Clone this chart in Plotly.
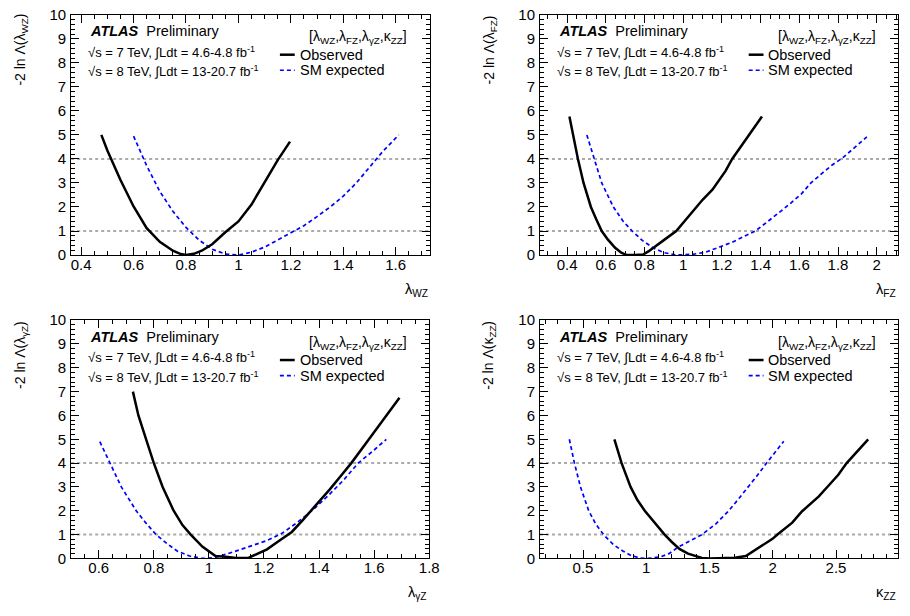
import plotly.graph_objects as go

# ---------------- data ----------------
wz_obs_x = [0.477, 0.50, 0.55, 0.60, 0.65, 0.70, 0.75, 0.78, 0.80, 0.83, 0.86, 0.90, 0.95, 1.00, 1.05, 1.10, 1.15, 1.197]
wz_obs_y = [5.0, 4.35, 3.12, 2.02, 1.12, 0.55, 0.18, 0.04, 0.0, 0.05, 0.18, 0.45, 0.95, 1.4, 2.1, 3.05, 3.95, 4.72]
wz_exp_x = [0.60, 0.65, 0.70, 0.75, 0.80, 0.85, 0.90, 0.95, 1.00, 1.05, 1.10, 1.15, 1.20, 1.25, 1.30, 1.35, 1.40, 1.45, 1.50, 1.55, 1.612]
wz_exp_y = [4.95, 3.72, 2.65, 1.82, 1.15, 0.62, 0.24, 0.04, 0.0, 0.12, 0.33, 0.62, 0.9, 1.22, 1.6, 2.0, 2.45, 3.0, 3.65, 4.3, 5.0]

fz_obs_x = [0.412, 0.43, 0.456, 0.485, 0.523, 0.55, 0.579, 0.61, 0.648, 0.68, 0.707, 0.75, 0.793, 0.82, 0.844, 0.90, 0.964, 1.0, 1.066, 1.10, 1.151, 1.177, 1.219, 1.253, 1.30, 1.339, 1.372, 1.407]
fz_obs_y = [5.77, 5.05, 4.0, 3.0, 2.0, 1.5, 1.0, 0.65, 0.3, 0.1, 0.0, 0.0, 0.02, 0.15, 0.3, 0.62, 1.0, 1.35, 2.0, 2.3, 2.72, 3.0, 3.5, 4.0, 4.55, 5.0, 5.4, 5.77]
fz_exp_x = [0.502, 0.54, 0.579, 0.639, 0.69, 0.736, 0.79, 0.844, 0.90, 0.964, 1.0, 1.05, 1.117, 1.151, 1.20, 1.253, 1.30, 1.372, 1.43, 1.492, 1.55, 1.611, 1.66, 1.72, 1.77, 1.825, 1.88, 1.949]
fz_exp_y = [5.0, 4.0, 3.0, 2.0, 1.4, 1.0, 0.6, 0.3, 0.1, 0.0, 0.0, 0.03, 0.12, 0.23, 0.38, 0.53, 0.72, 1.0, 1.35, 1.74, 2.12, 2.55, 3.0, 3.42, 3.75, 4.05, 4.45, 4.92]

gz_obs_x = [0.724, 0.744, 0.772, 0.80, 0.832, 0.872, 0.904, 0.934, 0.976, 1.024, 1.06, 1.10, 1.145, 1.18, 1.211, 1.25, 1.301, 1.34, 1.379, 1.439, 1.478, 1.517, 1.581, 1.64, 1.692]
gz_obs_y = [7.0, 6.0, 5.0, 4.0, 3.0, 2.0, 1.4, 1.0, 0.5, 0.1, 0.07, 0.02, 0.03, 0.2, 0.38, 0.7, 1.11, 1.6, 2.1, 2.9, 3.45, 4.0, 5.0, 5.9, 6.74]
gz_exp_x = [0.604, 0.64, 0.682, 0.736, 0.77, 0.808, 0.85, 0.886, 0.93, 0.975, 1.02, 1.091, 1.15, 1.211, 1.265, 1.32, 1.379, 1.43, 1.49, 1.542, 1.60, 1.644]
gz_exp_y = [4.9, 4.0, 3.0, 2.0, 1.5, 1.0, 0.6, 0.3, 0.1, 0.0, 0.03, 0.28, 0.52, 0.75, 1.05, 1.5, 2.05, 2.6, 3.3, 4.0, 4.55, 5.0]

kz_obs_x = [0.748, 0.805, 0.876, 0.93, 0.988, 1.066, 1.145, 1.20, 1.262, 1.33, 1.392, 1.44, 1.50, 1.60, 1.70, 1.787, 1.842, 1.92, 1.998, 2.037, 2.10, 2.154, 2.232, 2.30, 2.362, 2.44, 2.518, 2.584, 2.67, 2.754]
kz_obs_y = [5.0, 4.0, 3.0, 2.45, 2.0, 1.5, 1.0, 0.7, 0.4, 0.2, 0.1, 0.02, 0.0, 0.0, 0.03, 0.1, 0.28, 0.55, 0.82, 1.0, 1.25, 1.5, 1.98, 2.3, 2.59, 3.05, 3.51, 4.0, 4.5, 5.0]
kz_exp_x = [0.392, 0.432, 0.48, 0.545, 0.60, 0.662, 0.74, 0.818, 0.88, 0.95, 1.0, 1.05, 1.12, 1.18, 1.248, 1.35, 1.44, 1.55, 1.652, 1.73, 1.808, 1.88, 1.951, 2.02, 2.087]
kz_exp_y = [5.0, 4.0, 3.0, 2.0, 1.45, 1.0, 0.58, 0.3, 0.12, 0.02, 0.0, 0.02, 0.08, 0.2, 0.46, 0.73, 1.0, 1.45, 2.0, 2.5, 3.0, 3.5, 4.0, 4.45, 4.92]

ref_levels = [1, 4]
y_range = [0, 10]
x_ranges = [[0.362, 1.732], [0.26, 2.11], [0.5, 1.8], [0.16, 2.99]]
x_dticks = [0.2, 0.2, 0.2, 0.5]
x_minor = [0.05, 0.05, 0.05, 0.1]
x_titles = ["λ<sub>WZ</sub>", "λ<sub>FZ</sub>", "λ<sub>γZ</sub>", "κ<sub>ZZ</sub>"]
y_titles = ["-2 ln Λ(λ<sub>WZ</sub>)", "-2 ln Λ(λ<sub>FZ</sub>)", "-2 ln Λ(λ<sub>γZ</sub>)", "-2 ln Λ(κ<sub>ZZ</sub>)"]
label_atlas = "<b><i>ATLAS</i></b>  Preliminary"
label_7tev = "√s = 7 TeV, ∫Ldt = 4.6-4.8 fb<sup>-1</sup>"
label_8tev = "√s = 8 TeV, ∫Ldt = 13-20.7 fb<sup>-1</sup>"
label_header = "[λ<sub>WZ</sub>,λ<sub>FZ</sub>,λ<sub>γZ</sub>,κ<sub>ZZ</sub>]"
name_obs = "Observed"
name_exp = "SM expected"

series = [(wz_obs_x, wz_obs_y, wz_exp_x, wz_exp_y),
          (fz_obs_x, fz_obs_y, fz_exp_x, fz_exp_y),
          (gz_obs_x, gz_obs_y, gz_exp_x, gz_exp_y),
          (kz_obs_x, kz_obs_y, kz_exp_x, kz_exp_y)]

# ---------------- layout geometry (pixels) ----------------
W, H = 910, 616
boxes = [(72, 435, 6, 253), (546, 908, 6, 253), (72, 434, 320, 565), (546, 908, 320, 565)]
FONT = "Liberation Sans, Arial, Helvetica, sans-serif"
FS = 14.5

def px(x):
    return x / W

def py(y):
    return 1 - y / H

fig = go.Figure()
annotations = []
shapes = []
layout = dict(width=W, height=H, margin=dict(l=0, r=0, t=0, b=0),
              paper_bgcolor="white", plot_bgcolor="white", showlegend=False,
              font=dict(family=FONT, size=FS, color="black"))

for i, (box, (ox, oy, ex, ey)) in enumerate(zip(boxes, series)):
    n = i + 1
    xa = "x" if n == 1 else f"x{n}"
    ya = "y" if n == 1 else f"y{n}"
    l, r, t, b = box
    layout["xaxis" if n == 1 else f"xaxis{n}"] = dict(
        domain=[px(l), px(r)], range=x_ranges[i], anchor=ya,
        showline=True, linecolor="black", linewidth=1, mirror="allticks",
        ticks="inside", ticklen=8, tickcolor="black", tickwidth=1,
        dtick=x_dticks[i], tick0=0, showgrid=False, zeroline=False,
        minor=dict(ticks="inside", ticklen=4, dtick=x_minor[i], tick0=0, tickcolor="black", showgrid=False),
        tickfont=dict(size=15, family=FONT), ticklabelstandoff=-4)
    layout["yaxis" if n == 1 else f"yaxis{n}"] = dict(
        domain=[py(b), py(t)], range=y_range, anchor=xa,
        showline=True, linecolor="black", linewidth=1, mirror="allticks",
        ticks="inside", ticklen=8, tickcolor="black", tickwidth=1,
        dtick=1, tick0=0, showgrid=False, zeroline=False,
        minor=dict(ticks="inside", ticklen=4, dtick=0.2, tick0=0, tickcolor="black", showgrid=False),
        tickfont=dict(size=15, family=FONT), ticklabelstandoff=1)

    fig.add_trace(go.Scatter(x=ex, y=ey, mode="lines", name=name_exp, xaxis=xa, yaxis=ya,
                             line=dict(color="#0000ff", width=1.7, dash="4px,3px")))
    fig.add_trace(go.Scatter(x=ox, y=oy, mode="lines", name=name_obs, xaxis=xa, yaxis=ya,
                             line=dict(color="black", width=2.5)))

    for lev in ref_levels:
        shapes.append(dict(type="line", xref=f"{xa} domain", yref=ya, x0=0, x1=1, y0=lev, y1=lev,
                           line=dict(color="#aaaaaa", width=2, dash="dot"), layer="below"))

    def ann(text, x, y, xanchor="left", yanchor="middle", size=FS, **kw):
        d = dict(text=text, x=px(x), y=py(y), xref="paper", yref="paper", showarrow=False,
                 xanchor=xanchor, yanchor=yanchor, font=dict(size=size, family=FONT, color="black"))
        d.update(kw)
        annotations.append(d)

    ann(label_atlas, l + 17, t + 17)
    ann(label_7tev, l + 15, t + 38, size=13.0)
    ann(label_8tev, l + 15, t + 58, size=13.0)
    ann(label_header, l + 342, t + 23, xanchor="right", size=14)
    ann(name_obs, l + 229, t + 41)
    ann(name_exp, l + 229, t + 57)
    shapes.append(dict(type="line", xref="paper", yref="paper", x0=px(l + 211), x1=px(l + 226),
                       y0=py(t + 41), y1=py(t + 41), line=dict(color="black", width=2.5)))
    shapes.append(dict(type="line", xref="paper", yref="paper", x0=px(l + 211), x1=px(l + 226),
                       y0=py(t + 57), y1=py(t + 57), line=dict(color="#0000ff", width=1.7, dash="4px,3px")))
    # axis titles
    ann(x_titles[i], r, b + 36, xanchor="right")
    ann(y_titles[i], l - 51, t + 36, xanchor="center", yanchor="middle", textangle=-90, size=14)

layout["annotations"] = annotations
layout["shapes"] = shapes
fig.update_layout(**layout)
fig.write_html("out.html")
